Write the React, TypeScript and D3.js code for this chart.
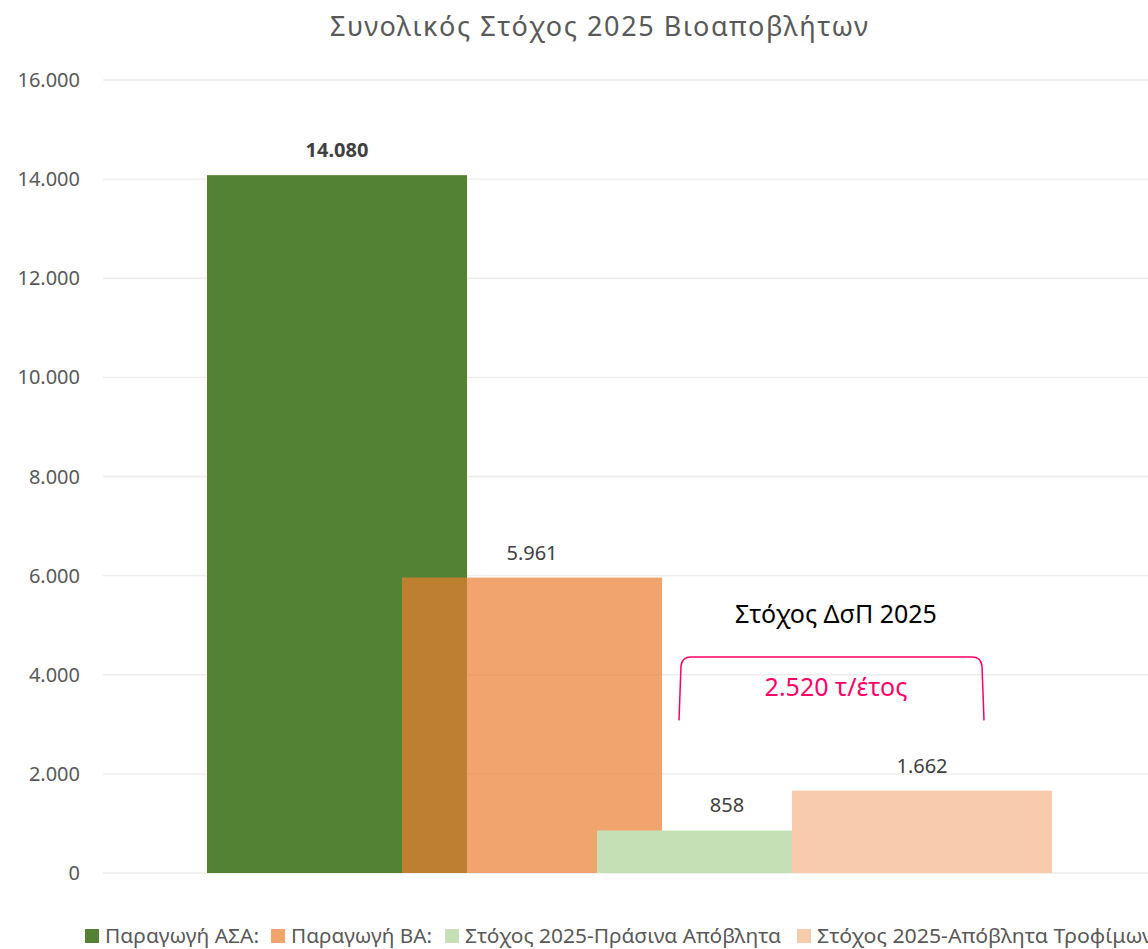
import { useMemo } from "react";
import * as d3 from "d3";

// chart data
const categories = [
  "Παραγωγή ΑΣΑ:",
  "Παραγωγή ΒΑ:",
  "Στόχος 2025-Πράσινα Απόβλητα",
  "Στόχος 2025-Απόβλητα Τροφίμων",
];
const values = [14080, 5961, 858, 1662];
const barColors = ["#548235", "#ED7D31", "#C5E0B4", "#F8CBAD"];
const barOpacity = [1, 0.7, 1, 1];
const boldLabel = [true, false, false, false];
const yTicks = [0, 2000, 4000, 6000, 8000, 10000, 12000, 14000, 16000];
const title = "Συνολικός Στόχος 2025 Βιοαποβλήτων";
const targetTitle = "Στόχος ΔσΠ 2025";
const targetValue = 2520;
const targetUnit = "τ/έτος";

// legend text widths (condensed font in the original)
const legendX = [85, 271, 445, 797];
const legendTextLen = [154, 141, 316, 336];

const W = 1148;
const H = 949;
const FONT = "'Noto Sans', 'Open Sans', sans-serif";

const greek = d3.formatLocale({
  decimal: ",",
  thousands: ".",
  grouping: [3],
  currency: ["", " €"],
});
const fmt = greek.format(",d");

const App = () => {
  const y = useMemo(() => d3.scaleLinear().domain([0, 16000]).range([873, 80]), []);
  // one band per category, bars are wider than the step so they overlap
  const x = useMemo(
    () => d3.scaleBand<number>().domain(d3.range(categories.length)).range([239.5, 1019.5]).padding(0),
    []
  );
  const barW = x.step() * 4 / 3;
  const cx = (i: number) => (x(i) as number) + x.bandwidth() / 2;

  // bracket for the target, spanning the two target bars
  const bx0 = cx(2) - 48;
  const bx1 = cx(3) + 62;
  const byTop = y(4360);
  const byBot = y(3080);
  const r = 9;
  const bracket = d3.path();
  bracket.moveTo(bx0, byBot);
  bracket.lineTo(bx0 + 2, byTop + r);
  bracket.quadraticCurveTo(bx0 + 3, byTop, bx0 + r + 3, byTop);
  bracket.lineTo(bx1 - r - 3, byTop);
  bracket.quadraticCurveTo(bx1 - 3, byTop, bx1 - 2, byTop + r);
  bracket.lineTo(bx1, byBot);

  return (
    <svg width={W} height={H} style={{ position: "absolute", left: 0, top: 0, background: "#fff" }}>
      <text
        x={599}
        y={36}
        textAnchor="middle"
        fontFamily={FONT}
        fontSize={27}
        fill="#595959"
        textLength={538}
        lengthAdjust="spacing"
      >
        {title}
      </text>

      {/* gridlines and y labels */}
      {yTicks.map((t) => (
        <g key={t}>
          <line x1={103} x2={W} y1={y(t)} y2={y(t)} stroke="#ECECEC" strokeWidth={1.3} />
          <text
            x={80}
            y={y(t) + 7}
            textAnchor="end"
            fontFamily={FONT}
            fontSize={20}
            fill="#595959"
          >
            {fmt(t)}
          </text>
        </g>
      ))}

      {/* bars */}
      {values.map((v, i) => (
        <rect
          key={i}
          x={cx(i) - barW / 2}
          y={y(v)}
          width={barW}
          height={y(0) - y(v)}
          fill={barColors[i]}
          fillOpacity={barOpacity[i]}
        />
      ))}

      {/* data labels */}
      {values.map((v, i) => (
        <text
          key={i}
          x={cx(i)}
          y={y(v) - 18}
          textAnchor="middle"
          fontFamily={FONT}
          fontSize={20}
          fontWeight={boldLabel[i] ? 700 : 400}
          fill="#404040"
        >
          {fmt(v)}
        </text>
      ))}

      {/* target annotation */}
      <text x={836} y={623} textAnchor="middle" fontFamily={FONT} fontSize={25} fill="#000">
        {targetTitle}
      </text>
      <path d={bracket.toString()} fill="none" stroke="#FF0066" strokeWidth={1.5} />
      <text x={836} y={696} textAnchor="middle" fontFamily={FONT} fontSize={25} fill="#FF0066">
        {fmt(targetValue) + " " + targetUnit}
      </text>

      {/* legend */}
      {categories.map((c, i) => (
        <g key={c}>
          <rect x={legendX[i]} y={929} width={14} height={14} fill={barColors[i]} fillOpacity={barOpacity[i]} />
          <text
            x={legendX[i] + 20}
            y={943}
            fontFamily={FONT}
            fontSize={19}
            fill="#595959"
            textLength={legendTextLen[i]}
            lengthAdjust="spacingAndGlyphs"
          >
            {c}
          </text>
        </g>
      ))}
    </svg>
  );
};

export default App;
